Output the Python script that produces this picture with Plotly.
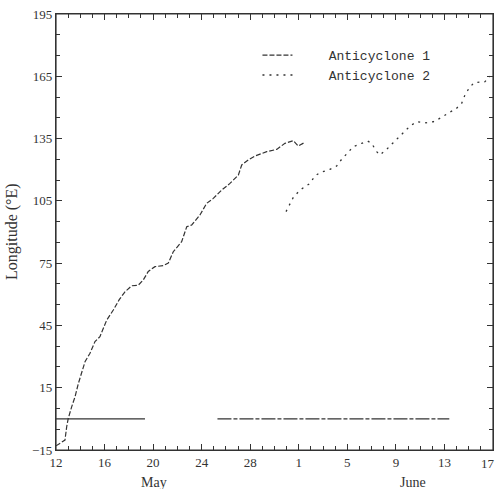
import plotly.graph_objects as go

# Anticyclone 1 track (x = day counted from 1 May; 32 = 1 June)
a1_day = [12.0, 12.74, 12.88, 13.01, 13.29, 13.57, 13.84, 14.12, 14.39, 14.8, 15.21, 15.62,
          16.18, 16.72, 17.21, 17.68, 18.24, 18.78, 19.19, 19.6, 20.15, 20.84, 21.25, 21.66,
          22.35, 22.77, 23.18, 23.86, 24.41, 24.96, 25.65, 26.33, 27.02, 27.3, 27.84, 28.39,
          29.36, 30.18, 30.86, 31.55, 31.96, 32.51]
a1_lon = [-13, -10.2, -3.8, 0.2, 5.8, 10.7, 17, 22, 27.5, 31.6, 37.2, 39.6,
          47.6, 52.4, 57.4, 61.2, 64.1, 64.4, 66.9, 71, 73.3, 73.8, 75, 80.5,
          85.3, 92.5, 93.4, 98.2, 103.8, 106.2, 110.2, 113.4, 117.4, 122.3, 124.7, 126.6,
          128.7, 129.8, 132.7, 134, 131.4, 133.2]

# Anticyclone 2 track
a2_day = [30.95, 31.28, 31.55, 32.1, 32.51, 32.92, 33.33, 33.75, 34.57, 35.12, 35.53, 35.95,
          36.49, 37.18, 37.68, 38.0, 38.42, 38.69, 39.24, 39.78, 40.2, 40.75, 41.16, 41.71,
          42.48, 43.08, 43.77, 44.37, 44.93, 45.42, 45.69, 46.02, 46.43, 47.34, 47.75]
a2_lon = [99.8, 103.2, 106.7, 110.2, 111.8, 113.4, 117, 118.6, 120.2, 121.8, 125, 127.9,
          131.1, 132.7, 133.8, 132.7, 128.7, 127.1, 129.8, 133, 135.6, 138.6, 141, 143.1,
          142.6, 143.1, 145.2, 147.5, 149.2, 152, 156, 159.2, 161.9, 162.4, 165]

# Horizontal reference segments at 0 degrees
ref1_day = [12.0, 19.33]
ref2_day = [25.3, 44.4]
ref_lon = [0, 0]

x_range = [12, 48]
y_range = [-15, 195]
x_tickvals = [12, 16, 20, 24, 28, 32, 36, 40, 44, 48]
x_ticktext = ["12", "16", "20", "24", "28", "1", "5", "9", "13", "17"]
y_tickvals = [-15, 15, 45, 75, 105, 135, 165, 195]
month_labels = ["May", "June"]
month_pos = [20.1, 41.4]

ink = "#333333"
serif = "Liberation Serif"
mono = "Liberation Mono"
pad = "\u00a0" * 4

fig = go.Figure()
fig.add_trace(go.Scatter(x=a1_day, y=a1_lon, mode="lines", name=pad + "Anticyclone 1",
                         line=dict(color=ink, width=1.2, dash="5px,2px")))
fig.add_trace(go.Scatter(x=a2_day, y=a2_lon, mode="lines", name=pad + "Anticyclone 2",
                         line=dict(color=ink, width=1.3, dash="2px,5px")))
fig.add_trace(go.Scatter(x=ref1_day, y=ref_lon, mode="lines", showlegend=False,
                         xaxis="x2", yaxis="y2", line=dict(color=ink, width=1.2)))
fig.add_trace(go.Scatter(x=ref2_day, y=ref_lon, mode="lines", showlegend=False,
                         line=dict(color=ink, width=1.2, dash="14px,2px,4px,2px")))

for lab, pos in zip(month_labels, month_pos):
    fig.add_annotation(x=pos, y=0, xref="x", yref="paper", yanchor="middle", yshift=-32,
                       text=lab, showarrow=False, font=dict(family=serif, size=14, color=ink))

# last x tick label, right-aligned at the page edge so it is not clipped
fig.add_annotation(x=1, y=0, xref="paper", yref="paper", xanchor="right", yanchor="middle",
                   xshift=4, yshift=-13, text=x_ticktext[-1], showarrow=False,
                   font=dict(family=serif, size=13, color=ink))

# y-axis title placed as rotated annotation
fig.add_annotation(x=-44 / 437, y=0.5, xref="paper", yref="paper", xanchor="center",
                   yanchor="middle", textangle=-90, text="Longitude (°E)", showarrow=False,
                   font=dict(family=serif, size=16, color=ink))

# frame around the plotting area
fig.add_shape(type="rect", xref="paper", yref="paper", x0=0, y0=0, x1=1, y1=1,
              line=dict(color=ink, width=1.2), layer="above")

axis_common = dict(ticks="inside", ticklen=6, tickcolor=ink, showgrid=False, zeroline=False,
                   showline=True, linecolor=ink, linewidth=1.2,
                   automargin=False, ticklabeloverflow="allow",
                   tickfont=dict(family=serif, size=13, color=ink))

fig.update_layout(
    width=497, height=489,
    margin=dict(l=56, r=4, t=14, b=39, autoexpand=False),
    paper_bgcolor="white", plot_bgcolor="white",
    font=dict(family=serif, size=13, color=ink),
    legend=dict(x=0.461, y=0.94, xanchor="left", yanchor="top",
                bgcolor="rgba(0,0,0,0)", font=dict(family=mono, size=13, color=ink),
                tracegroupgap=0),
    xaxis=dict(range=x_range, tickmode="array", tickvals=x_tickvals,
               ticktext=x_ticktext[:-1] + [""],
               minor=dict(dtick=1, ticks="inside", ticklen=4, tickcolor=ink), **axis_common),
    yaxis=dict(range=y_range, tickmode="array", tickvals=y_tickvals,
               ticksuffix="\u00a0\u00a0",
               minor=dict(dtick=10, tick0=-15, ticks="inside", ticklen=4, tickcolor=ink),
               **axis_common),
    xaxis2=dict(range=x_range, overlaying="x", side="top", anchor="y2", tickmode="array",
                tickvals=x_tickvals, showticklabels=False,
                minor=dict(dtick=1, ticks="inside", ticklen=4, tickcolor=ink), **axis_common),
    yaxis2=dict(range=y_range, overlaying="y", side="right", anchor="x2", tickmode="array",
                tickvals=y_tickvals, showticklabels=False,
                minor=dict(dtick=10, tick0=-15, ticks="inside", ticklen=4, tickcolor=ink),
                **axis_common),
)

fig.write_html("out.html", config={"displayModeBar": False},
               post_script="document.body.style.margin='0';document.body.style.overflow='hidden';")
